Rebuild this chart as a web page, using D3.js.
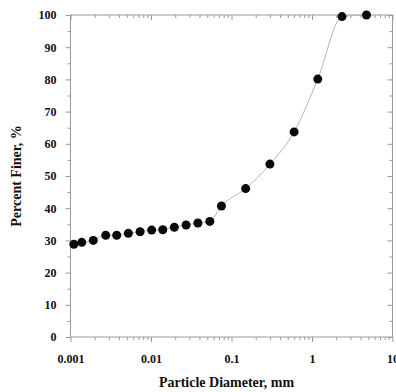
<!DOCTYPE html>
<html>
<head>
<meta charset="utf-8">
<script src="https://cdn.jsdelivr.net/npm/d3@7/dist/d3.min.js"></script>
<style>
  html, body { margin: 0; padding: 0; background: #fff; }
  svg { display: block; }
  .lbl { font-family: "Liberation Serif", "Times New Roman", serif; font-weight: bold; fill: #111; }
</style>
</head>
<body>
<svg id="chart" width="396" height="392"></svg>
<script>
// Grain-size distribution: particle diameter (mm) vs percent finer (%)
const diameters = [0.0011, 0.00138, 0.00192, 0.00274, 0.00375, 0.00523, 0.00732, 0.0102, 0.014, 0.0195, 0.0273, 0.0382, 0.0538, 0.075, 0.15, 0.3, 0.6, 1.18, 2.36, 4.75];
const percentFiner = [28.8, 29.4, 30.0, 31.6, 31.6, 32.2, 32.7, 33.2, 33.3, 34.1, 34.8, 35.4, 35.9, 40.7, 46.1, 53.7, 63.7, 80.1, 99.5, 100];
const xTickValues = [0.001, 0.01, 0.1, 1, 10];
const xTickLabels = ["0.001", "0.01", "0.1", "1", "10"];
const yTickValues = [0, 10, 20, 30, 40, 50, 60, 70, 80, 90, 100];

const svg = d3.select("#chart");
const plotL = 70.5, plotR = 392.5, plotT = 15, plotB = 337;

const x = d3.scaleLog().domain([0.001, 10]).range([plotL, plotR]);
const y = d3.scaleLinear().domain([0, 100]).range([plotB, plotT]);

const minorX = [];
for (let e = -3; e < 1; e++) for (let m = 2; m <= 9; m++) minorX.push(m * Math.pow(10, e));
const minorY = d3.range(5, 100, 10);

const axisColor = "#9a9a9a";
function styleAxis(g) {
  g.select(".domain").remove();
  g.selectAll(".tick line").attr("stroke", axisColor).attr("stroke-width", 1);
}

// bottom axis: major + minor ticks
svg.append("g").attr("transform", `translate(0,${plotB})`)
  .call(d3.axisBottom(x).tickValues(xTickValues).tickSize(5).tickPadding(12)
    .tickFormat((d, i) => xTickLabels[i]))
  .call(styleAxis)
  .call(g => g.selectAll("text").attr("class", "lbl").attr("font-size", 12).attr("fill", "#111"));
svg.append("g").attr("transform", `translate(0,${plotB})`)
  .call(d3.axisBottom(x).tickValues(minorX).tickSize(3).tickFormat(""))
  .call(styleAxis);

// top axis: mirrored ticks pointing inward
svg.append("g").attr("transform", `translate(0,${plotT})`)
  .call(d3.axisBottom(x).tickValues(xTickValues).tickSize(5).tickFormat(""))
  .call(styleAxis);
svg.append("g").attr("transform", `translate(0,${plotT})`)
  .call(d3.axisBottom(x).tickValues(minorX).tickSize(3).tickFormat(""))
  .call(styleAxis);

// left axis
svg.append("g").attr("transform", `translate(${plotL},0)`)
  .call(d3.axisLeft(y).tickValues(yTickValues).tickSize(5).tickPadding(9))
  .call(styleAxis)
  .call(g => g.selectAll("text").attr("class", "lbl").attr("font-size", 12).attr("fill", "#111"));
svg.append("g").attr("transform", `translate(${plotL},0)`)
  .call(d3.axisLeft(y).tickValues(minorY).tickSize(3).tickFormat(""))
  .call(styleAxis);

// right axis: ticks inward
svg.append("g").attr("transform", `translate(${plotR},0)`)
  .call(d3.axisLeft(y).tickValues(yTickValues).tickSize(5).tickFormat(""))
  .call(styleAxis);
svg.append("g").attr("transform", `translate(${plotR},0)`)
  .call(d3.axisLeft(y).tickValues(minorY).tickSize(3).tickFormat(""))
  .call(styleAxis);

// plot frame
svg.append("rect")
  .attr("x", plotL).attr("y", plotT)
  .attr("width", plotR - plotL).attr("height", plotB - plotT)
  .attr("fill", "none").attr("stroke", axisColor).attr("stroke-width", 1);

// smooth gradation curve through the measurements
const pts = diameters.map((d, i) => [d, percentFiner[i]]);
const line = d3.line()
  .x(d => x(d[0])).y(d => y(d[1]))
  .curve(d3.curveMonotoneX);
svg.append("path").datum(pts)
  .attr("d", line)
  .attr("fill", "none").attr("stroke", "#b5b5b5").attr("stroke-width", 1);

// measured points
svg.append("g").selectAll("circle").data(pts).join("circle")
  .attr("cx", d => x(d[0])).attr("cy", d => y(d[1]))
  .attr("r", 4.5).attr("fill", "#0a0a0a");

// axis titles
svg.append("text").attr("class", "lbl")
  .attr("x", (plotL + plotR) / 2 - 5).attr("y", 387)
  .attr("text-anchor", "middle").attr("font-size", 14)
  .text("Particle Diameter, mm");
svg.append("text").attr("class", "lbl")
  .attr("transform", `translate(21,${(plotT + plotB) / 2}) rotate(-90)`)
  .attr("text-anchor", "middle").attr("font-size", 14)
  .text("Percent Finer, %");
</script>
</body>
</html>
